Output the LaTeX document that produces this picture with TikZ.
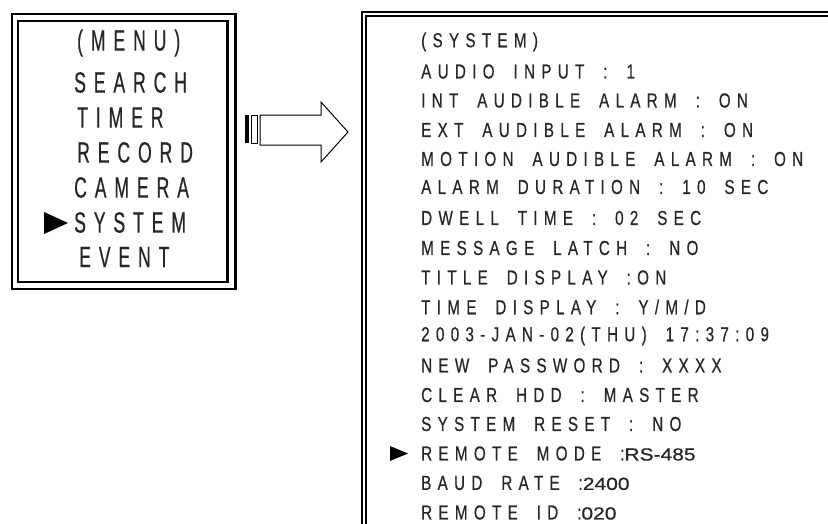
\documentclass[tikz,border=0pt]{standalone}
\usepackage{fontspec}
\newfontfamily\menufont[FakeStretch=0.6,LetterSpace=27,FakeBold=0.5]{Liberation Sans}
\newfontfamily\sysfont[FakeStretch=0.75,LetterSpace=31,WordSpace=1.8,FakeBold=0.5]{Liberation Sans}
\newfontfamily\valfont[FakeStretch=1.2,FakeBold=0.6]{Liberation Sans}
\newcommand{\val}[1]{{\valfont\fontsize{17.5}{17.5}\selectfont #1}}

\begin{document}
\begin{tikzpicture}[x=1pt, y=-1pt,
		menuitem/.style={anchor=west, inner sep=0pt, text=black!85, font=\menufont\fontsize{29.3}{29.3}\selectfont},
		sysitem/.style={anchor=west, inner sep=0pt, text=black!85, font=\sysfont\fontsize{20.3}{20.3}\selectfont},
		frame/.style={line width=2.5pt}]
		\useasboundingbox (0,0) rectangle (828,523);
		
		% menu window
		\draw[frame] (12,14) rectangle (235.5,289);
		\draw[frame] (18,21) rectangle (227.5,282);
		
		\node[menuitem] (menu) at (77,43) {(MENU)};
		\node[menuitem] (search) at (74,82.5) {SEARCH};
		\node[menuitem] (timer) at (77,117.5) {TIMER};
		\node[menuitem] (record) at (77,152.5) {RECORD};
		\node[menuitem] (camera) at (74,187.5) {CAMERA};
		\node[menuitem] (system) at (74,222.5) {SYSTEM};
		\node[menuitem] (event) at (79,257) {EVENT};
		
		\fill[black] (44,212) -- (68,223) -- (44,234) -- cycle;
		
		% arrow
		\fill (245,115) rectangle (249,143);
		\draw[line width=1pt] (251.5,115) rectangle (257,143);
		\draw[line width=1pt] (260,115) -- (321,115) -- (321,102) -- (348,132) -- (321,162) -- (321,145) -- (260,145) -- cycle;
		
		% system window
		\draw[line width=2pt] (362,530) |- (835,12);
		\draw[line width=1.5pt] (366,530) |- (835,16);
		
		\node[sysitem] (sys) at (421,42) {(SYSTEM)};
		\node[sysitem] (audio) at (421,71.5) {AUDIO INPUT : 1};
		\node[sysitem] (intalarm) at (421,100.5) {INT AUDIBLE ALARM : ON};
		\node[sysitem] (extalarm) at (421,130) {EXT AUDIBLE ALARM : ON};
		\node[sysitem] (motion) at (421,159) {MOTION AUDIBLE ALARM : ON};
		\node[sysitem] (duration) at (421,187) {ALARM DURATION : 10 SEC};
		\node[sysitem] (dwell) at (421,218) {DWELL TIME : 02 SEC};
		\node[sysitem] (latch) at (421,248) {MESSAGE LATCH : NO};
		\node[sysitem] (title) at (421,277.5) {TITLE DISPLAY :ON};
		\node[sysitem] (timedisp) at (421,307) {TIME DISPLAY : Y/M/D};
		\node[sysitem] (clock) at (421,336) {2003-JAN-02(THU) 17:37:09};
		\node[sysitem] (password) at (421,365.5) {NEW PASSWORD : XXXX};
		\node[sysitem] (hdd) at (421,395) {CLEAR HDD : MASTER};
		\node[sysitem] (reset) at (421,424) {SYSTEM RESET : NO};
		\node[sysitem] (mode) at (421,453.5) {REMOTE MODE :\val{RS-485}};
		\node[sysitem] (baud) at (421,483) {BAUD RATE :\val{2400}};
		\node[sysitem] (remoteid) at (421,512.5) {REMOTE ID :\val{020}};
		
		\fill[black] (390,446) -- (408,453.5) -- (390,461) -- cycle;
	\end{tikzpicture}
\end{document}
